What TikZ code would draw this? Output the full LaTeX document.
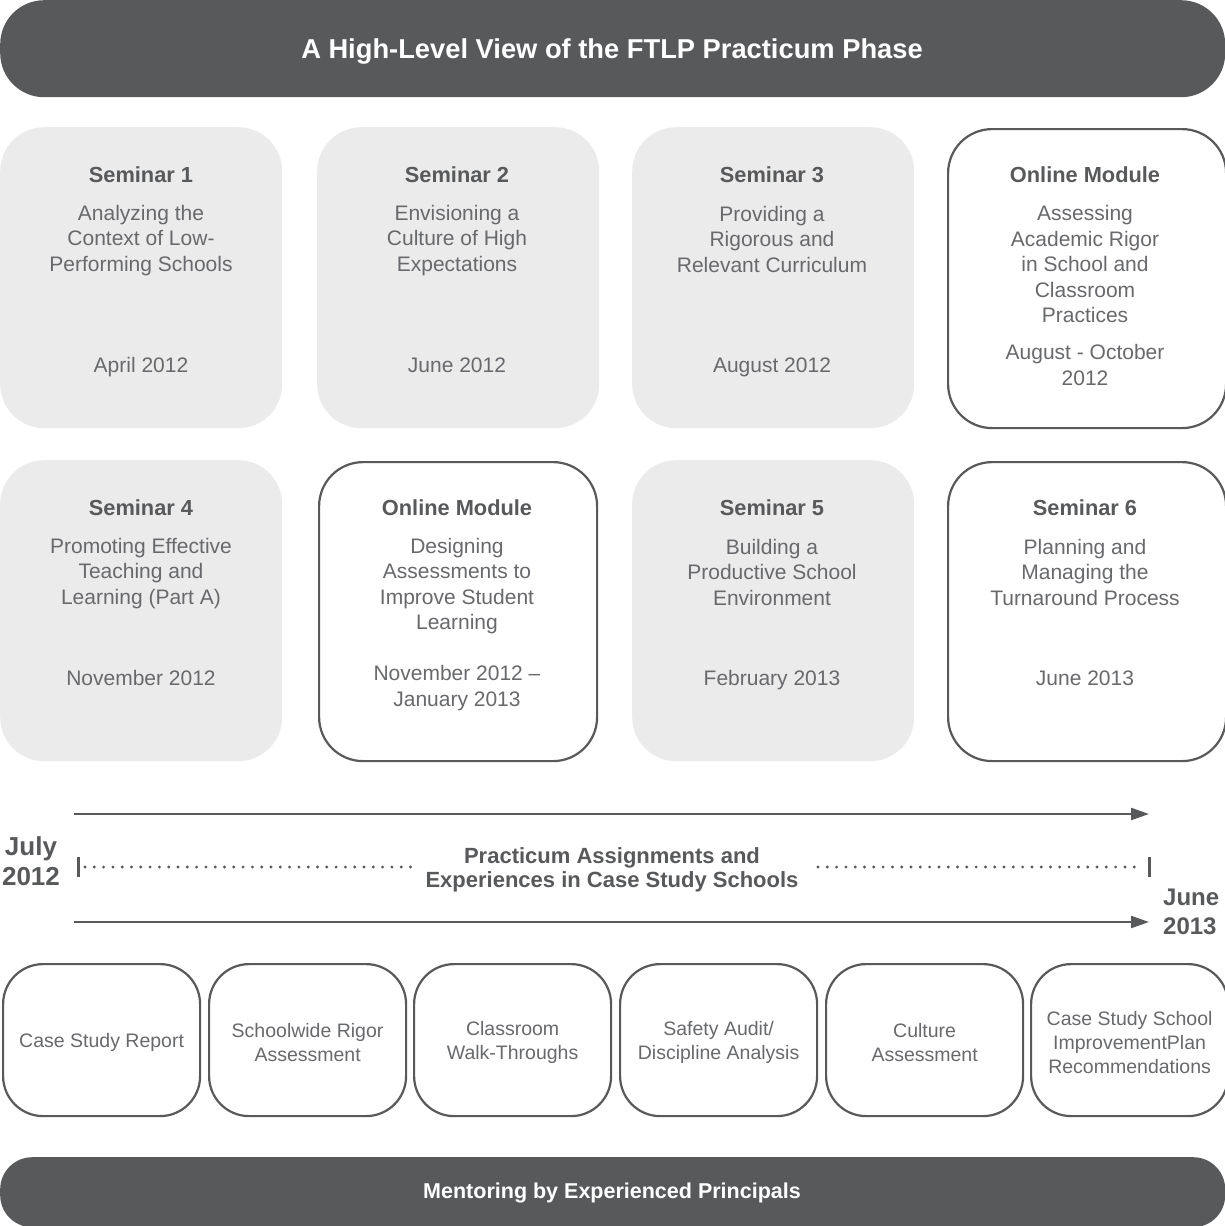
\documentclass[tikz,border=0pt]{standalone}
\usepackage{fontspec}
\setmainfont{Liberation Sans}
\usetikzlibrary{arrows.meta}
\definecolor{ink}{HTML}{58595B}
\definecolor{bodyink}{HTML}{68696C}
\definecolor{pale}{HTML}{EBEBEB}
\begin{document}
\begin{tikzpicture}[x=1pt,y=-1pt,
  banner/.style={fill=ink, draw=none, rounded corners=44pt, inner sep=0pt, anchor=north west},
  semcard/.style={fill=pale, draw=none, rounded corners=44pt, inner sep=0pt, anchor=north west,
    minimum width=282pt, minimum height=301pt},
  webcard/.style={fill=white, draw=ink, line width=2.2pt, rounded corners=44pt, inner sep=0pt,
    anchor=north west, minimum width=278pt, minimum height=299pt},
  taskcard/.style={fill=white, draw=ink, line width=2.2pt, rounded corners=40pt, inner sep=0pt,
    anchor=north west, minimum width=197pt, minimum height=152pt},
  ttl/.style={font=\bfseries\fontsize{21.8}{25}\selectfont, text=ink, inner sep=0pt},
  txt/.style={font=\fontsize{21}{25.5}\selectfont, text=bodyink, align=center, inner sep=0pt},
  tasktxt/.style={font=\fontsize{19.5}{24}\selectfont, text=bodyink, align=center, inner sep=0pt,
    yshift=-2.5pt},
  datelbl/.style={font=\bfseries\fontsize{26}{30.5}\selectfont, text=ink, inner sep=0pt},
  tline/.style={draw=ink, line width=2.4pt, -{Triangle[length=18pt,width=12pt]}},
  dotline/.style={draw=ink, line width=3.2pt, line cap=round, dash pattern=on 0pt off 9.3pt},
  tick/.style={draw=ink, line width=3pt}
]
\useasboundingbox (0,0) rectangle (1225,1226);
\clip (0,0) rectangle (1225,1226);

% header bar
\node[banner, minimum width=1225pt, minimum height=97pt] (head) at (0,0) {};
\node[font=\bfseries\fontsize{27.3}{30}\selectfont, text=white, inner sep=0pt] (headtxt) at (612,52)
  {A High-Level View of the FTLP Practicum Phase};

% first row of sessions
\node[semcard] (s1) at (0,127) {};
\node[semcard] (s2) at (317,127) {};
\node[semcard] (s3) at (632,127) {};
\node[webcard] (om1) at (947,128) {};

\node[ttl] (s1t) at (141,175) {Seminar 1};
\node[txt] (s1b) at (141,240.5) {Analyzing the\\Context of Low-\\Performing Schools};
\node[txt] (s1d) at (141,367) {April 2012};

\node[ttl] (s2t) at (457,175) {Seminar 2};
\node[txt] (s2b) at (457,240.5) {Envisioning a\\Culture of High\\Expectations};
\node[txt] (s2d) at (457,365) {June 2012};

\node[ttl] (s3t) at (772,175) {Seminar 3};
\node[txt] (s3b) at (772,239) {Providing a\\Rigorous and\\Relevant Curriculum};
\node[txt] (s3d) at (772,367) {August 2012};

\node[ttl] (om1t) at (1085,175) {Online Module};
\node[txt] (om1b) at (1085,264) {Assessing\\Academic Rigor\\in School and\\Classroom\\Practices};
\node[txt] (om1d) at (1085,365) {August - October\\2012};

% second row of sessions
\node[semcard] (s4) at (0,460) {};
\node[webcard] (om2) at (318,461) {};
\node[semcard] (s5) at (632,460) {};
\node[webcard] (s6) at (947,461) {};

\node[ttl] (s4t) at (141,508) {Seminar 4};
\node[txt] (s4b) at (141,573.5) {Promoting Effective\\Teaching and\\Learning (Part A)};
\node[txt] (s4d) at (141,678) {November 2012};

\node[ttl] (om2t) at (457,508) {Online Module};
\node[txt] (om2b) at (457,586) {Designing\\Assessments to\\Improve Student\\Learning};
\node[txt] (om2d) at (457,688) {November 2012 --\\January 2013};

\node[ttl] (s5t) at (772,508) {Seminar 5};
\node[txt] (s5b) at (772,572) {Building a\\Productive School\\Environment};
\node[txt] (s5d) at (772,680) {February 2013};

\node[ttl] (s6t) at (1085,508) {Seminar 6};
\node[txt] (s6b) at (1085,572) {Planning and\\Managing the\\Turnaround Process};
\node[txt] (s6d) at (1085,678) {June 2013};

% timeline
\coordinate (upA) at (74,814);
\coordinate (upB) at (1149,814);
\coordinate (loA) at (74,922);
\coordinate (loB) at (1149,922);
\draw[tline] (upA) -- (upB);
\draw[tline] (loA) -- (loB);

\coordinate (tkLa) at (78,857);
\coordinate (tkLb) at (78,877);
\coordinate (tkRa) at (1149,857);
\coordinate (tkRb) at (1149,877);
\draw[tick] (tkLa) -- (tkLb);
\draw[tick] (tkRa) -- (tkRb);

\coordinate (dLa) at (85,867);
\coordinate (dLb) at (418,867);
\coordinate (dRa) at (818,867);
\coordinate (dRb) at (1143,867);
\draw[dotline] (dLa) -- (dLb);
\draw[dotline] (dRa) -- (dRb);

\node[font=\bfseries\fontsize{22}{24}\selectfont, text=ink, align=center, inner sep=0pt] (pract) at (612,870)
  {Practicum Assignments and\\Experiences in Case Study Schools};
\node[datelbl, align=center] (start) at (31,861) {July\\2012};
\node[datelbl, font=\bfseries\fontsize{24}{29.5}\selectfont, align=left, anchor=west] (finish) at (1163,912) {June\\2013};

% practicum tasks
\node[taskcard] (k1) at (2,963) {};
\node[taskcard] (k2) at (208,963) {};
\node[taskcard] (k3) at (413,963) {};
\node[taskcard] (k4) at (619,963) {};
\node[taskcard] (k5) at (825,963) {};
\node[taskcard] (k6) at (1030,963) {};
\node[tasktxt] (k1t) at (k1.center) {Case Study Report};
\node[tasktxt] (k2t) at (k2.center) {Schoolwide Rigor\\Assessment};
\node[tasktxt] (k3t) at (k3.center) {Classroom\\Walk-Throughs};
\node[tasktxt] (k4t) at (k4.center) {Safety Audit/\\Discipline Analysis};
\node[tasktxt] (k5t) at (k5.center) {Culture\\Assessment};
\node[tasktxt] (k6t) at (k6.center) {Case Study School\\ImprovementPlan\\Recommendations};

% footer bar
\node[banner, rounded corners=32pt, minimum width=1225pt, minimum height=70pt] (foot) at (0,1157) {};
\node[font=\bfseries\fontsize{21.5}{24}\selectfont, text=white, inner sep=0pt] (foottxt) at (612,1193)
  {Mentoring by Experienced Principals};
\end{tikzpicture}
\end{document}
